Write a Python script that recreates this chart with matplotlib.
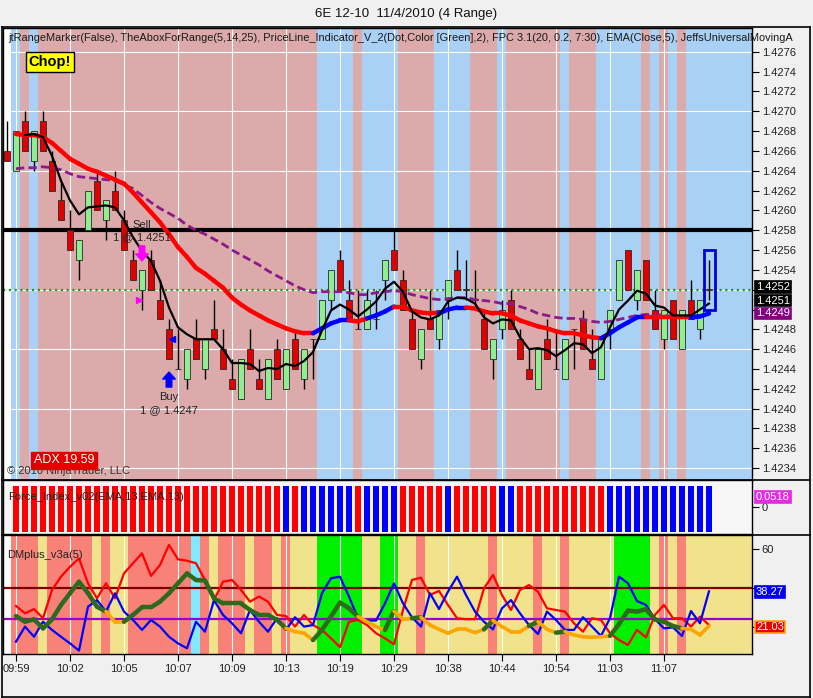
import numpy as np
import matplotlib
matplotlib.use("Agg")
import matplotlib.pyplot as plt
from matplotlib.collections import LineCollection
from matplotlib.patches import Rectangle
from matplotlib.lines import Line2D
import matplotlib.transforms as mtrans

plt.rcParams['font.family'] = ['Liberation Sans', 'DejaVu Sans']

# ---------------- data ----------------
TITLE = "6E 12-10  11/4/2010 (4 Range)"
HEADER = ("jtRangeMarker(False), TheAboxForRange(5,14,25), PriceLine_Indicator_V_2(Dot,Color [Green],2), "
          "FPC 3.1(20, 0.2, 7:30), EMA(Close,5), JeffsUniversalMovingA")
time_labels = ["09:59", "10:02", "10:05", "10:07", "10:09", "10:13", "10:19",
               "10:29", "10:38", "10:44", "10:54", "11:03", "11:07"]
time_label_bars = [1, 7, 13, 19, 25, 31, 37, 43, 49, 55, 61, 67, 73]

opens = [1.4266, 1.4264, 1.4269, 1.4265, 1.4269, 1.4265, 1.4261, 1.4258, 1.4255, 1.4258,
         1.4263, 1.4259, 1.4262, 1.4259, 1.4255, 1.4252, 1.4255, 1.4251, 1.4248, 1.4244,
         1.4243, 1.4247, 1.4244, 1.4248, 1.4246, 1.4243, 1.4241, 1.4246, 1.4243, 1.4241,
         1.4246, 1.4242, 1.4247, 1.4243, 1.4247, 1.4247, 1.4251, 1.4255, 1.4251, 1.4248,
         1.4248, 1.4249, 1.4253, 1.4256, 1.4253, 1.4249, 1.4245, 1.4249, 1.4247, 1.4251,
         1.4254, 1.4252, 1.4251, 1.4249, 1.4245, 1.4248, 1.4251, 1.4247, 1.4244, 1.4242,
         1.4247, 1.4244, 1.4243, 1.4248, 1.4249, 1.4245, 1.4243, 1.4248, 1.4251, 1.4256,
         1.4251, 1.4255, 1.4250, 1.4247, 1.4251, 1.4246, 1.4251, 1.4248, 1.4252]
highs = [1.4269, 1.4268, 1.4270, 1.4268, 1.4270, 1.4266, 1.4263, 1.4260, 1.4257, 1.4262,
         1.4264, 1.4261, 1.4264, 1.4260, 1.4256, 1.4254, 1.4256, 1.4253, 1.4249, 1.4248,
         1.4246, 1.4249, 1.4247, 1.4251, 1.4248, 1.4245, 1.4245, 1.4248, 1.4245, 1.4245,
         1.4247, 1.4246, 1.4248, 1.4246, 1.4247, 1.4251, 1.4254, 1.4256, 1.4253, 1.4252,
         1.4252, 1.4252, 1.4255, 1.4258, 1.4254, 1.4250, 1.4248, 1.4252, 1.4250, 1.4253,
         1.4256, 1.4255, 1.4254, 1.4250, 1.4247, 1.4251, 1.4252, 1.4248, 1.4246, 1.4246,
         1.4249, 1.4248, 1.4247, 1.4248, 1.4250, 1.4248, 1.4247, 1.4250, 1.4255, 1.4256,
         1.4254, 1.4255, 1.4252, 1.4250, 1.4251, 1.4250, 1.4253, 1.4251, 1.4255]
lows = [1.4265, 1.4264, 1.4266, 1.4264, 1.4266, 1.4262, 1.4259, 1.4256, 1.4253, 1.4258,
        1.4260, 1.4257, 1.4260, 1.4256, 1.4253, 1.4250, 1.4252, 1.4249, 1.4245, 1.4244,
        1.4242, 1.4245, 1.4243, 1.4247, 1.4244, 1.4242, 1.4241, 1.4244, 1.4242, 1.4241,
        1.4243, 1.4242, 1.4244, 1.4242, 1.4243, 1.4247, 1.4250, 1.4252, 1.4249, 1.4248,
        1.4248, 1.4248, 1.4251, 1.4254, 1.4250, 1.4246, 1.4244, 1.4248, 1.4246, 1.4249,
        1.4252, 1.4251, 1.4250, 1.4246, 1.4243, 1.4247, 1.4248, 1.4245, 1.4243, 1.4242,
        1.4245, 1.4244, 1.4243, 1.4244, 1.4246, 1.4244, 1.4243, 1.4246, 1.4251, 1.4252,
        1.4250, 1.4251, 1.4248, 1.4246, 1.4247, 1.4246, 1.4249, 1.4247, 1.4251]
closes = [1.4265, 1.4268, 1.4266, 1.4268, 1.4266, 1.4262, 1.4259, 1.4256, 1.4257, 1.4262,
          1.4260, 1.4261, 1.4260, 1.4256, 1.4253, 1.4254, 1.4252, 1.4249, 1.4245, 1.4244,
          1.4246, 1.4245, 1.4247, 1.4247, 1.4244, 1.4242, 1.4245, 1.4244, 1.4242, 1.4245,
          1.4243, 1.4246, 1.4244, 1.4246, 1.4247, 1.4251, 1.4254, 1.4252, 1.4249, 1.4248,
          1.4251, 1.4249, 1.4255, 1.4254, 1.4250, 1.4246, 1.4248, 1.4248, 1.4250, 1.4253,
          1.4252, 1.4252, 1.4251, 1.4246, 1.4247, 1.4250, 1.4248, 1.4245, 1.4243, 1.4246,
          1.4245, 1.4244, 1.4247, 1.4248, 1.4246, 1.4244, 1.4247, 1.4250, 1.4255, 1.4252,
          1.4254, 1.4251, 1.4248, 1.4250, 1.4247, 1.4250, 1.4249, 1.4251, 1.4252]

# EMA(Close,5) -- black, starts at bar 2
ema_fast_start = 2
ema_fast = [1.42676, 1.42677, 1.42674, 1.42655, 1.42630, 1.42610, 1.42596, 1.42603, 1.42604, 1.42605,
            1.42603, 1.42590, 1.42573, 1.42559, 1.42549, 1.42529, 1.42502, 1.42482, 1.42475, 1.42470,
            1.42470, 1.42470, 1.42460, 1.42446, 1.42446, 1.42445, 1.42438, 1.42441, 1.42440, 1.42445,
            1.42443, 1.42448, 1.42457, 1.42479, 1.42499, 1.42505, 1.42500, 1.42493, 1.42500, 1.42508,
            1.42521, 1.42528, 1.42518, 1.42498, 1.42492, 1.42490, 1.42494, 1.42508, 1.42512, 1.42511,
            1.42506, 1.42492, 1.42486, 1.42490, 1.42489, 1.42472, 1.42460, 1.42461, 1.42459, 1.42453,
            1.42459, 1.42466, 1.42465, 1.42456, 1.42462, 1.42482, 1.42500, 1.42509, 1.42519, 1.42516,
            1.42504, 1.42502, 1.42494, 1.42494, 1.42494, 1.42500, 1.42506]

# slow moving average -- red falling / blue rising, starts at bar 1
ema_slow_start = 1
ema_slow = [1.42677, 1.42676, 1.42676, 1.42674, 1.42668, 1.42660, 1.42652, 1.42647, 1.42642, 1.42639,
            1.42635, 1.42631, 1.42627, 1.42618, 1.42608, 1.42598, 1.42588, 1.42576, 1.42563, 1.42553,
            1.42542, 1.42536, 1.42529, 1.42522, 1.42512, 1.42505, 1.42499, 1.42494, 1.42489, 1.42485,
            1.42481, 1.42478, 1.42476, 1.42476, 1.42481, 1.42486, 1.42489, 1.42489, 1.42488, 1.42491,
            1.42494, 1.42498, 1.42503, 1.42503, 1.42499, 1.42497, 1.42496, 1.42496, 1.42500, 1.42502,
            1.42502, 1.42501, 1.42498, 1.42496, 1.42496, 1.42494, 1.42489, 1.42486, 1.42483, 1.42481,
            1.42478, 1.42476, 1.42476, 1.42474, 1.42472, 1.42471, 1.42476, 1.42482, 1.42487, 1.42492,
            1.42492, 1.42492, 1.42492, 1.42492, 1.42492, 1.42492, 1.42493, 1.42496]
ema_slow_rising_from = [34, 35, 36, 37, 40, 41, 42, 48, 49, 50, 66, 67, 68, 69, 70, 76, 77]

# Jeffs universal moving average -- purple dashed, starts at bar 1
juma_start = 1
juma = [1.42642, 1.42643, 1.42643, 1.42644, 1.42643, 1.42641, 1.42637, 1.42634, 1.42633, 1.42632,
        1.42631, 1.42630, 1.42626, 1.42622, 1.42615, 1.42608, 1.42602, 1.42597, 1.42592, 1.42585,
        1.42580, 1.42576, 1.42571, 1.42566, 1.42560, 1.42555, 1.42550, 1.42545, 1.42539, 1.42534,
        1.42529, 1.42524, 1.42520, 1.42517, 1.42518, 1.42518, 1.42518, 1.42517, 1.42515, 1.42515,
        1.42517, 1.42518, 1.42519, 1.42518, 1.42515, 1.42513, 1.42511, 1.42510, 1.42511, 1.42512,
        1.42512, 1.42510, 1.42509, 1.42508, 1.42506, 1.42506, 1.42503, 1.42500, 1.42496, 1.42494,
        1.42492, 1.42491, 1.42491, 1.42490, 1.42488, 1.42487, 1.42488, 1.42490, 1.42492, 1.42494,
        1.42495, 1.42495, 1.42494, 1.42493, 1.42493, 1.42493, 1.42494, 1.42496]

# background regimes (runs from bar 1): B = trend (blue), P = chop (pink)
main_bg_runs = [('B', 1), ('P', 1), ('B', 1), ('P', 31), ('B', 4), ('P', 1), ('B', 4), ('P', 4),
                ('B', 4), ('P', 3), ('B', 1), ('P', 6), ('B', 1), ('P', 3), ('B', 5), ('P', 1),
                ('B', 1), ('P', 1), ('B', 1), ('P', 1), ('B', 3)]
# force index sign (runs from bar 1): R negative, B positive
force_runs = [('R', 30), ('B', 1), ('R', 1), ('B', 6), ('R', 1), ('B', 4), ('R', 5), ('B', 1),
              ('R', 5), ('B', 2), ('R', 10), ('B', 12)]
force_last = "0.0518"
# DMplus background states (runs from bar 1)
dm_bg_runs = [('S', 3), ('K', 1), ('S', 5), ('K', 1), ('S', 1), ('K', 2), ('S', 7), ('C', 1),
              ('S', 1), ('K', 1), ('S', 3), ('K', 1), ('S', 2), ('K', 1), ('S', 1), ('K', 3),
              ('G', 5), ('K', 2), ('G', 2), ('K', 2), ('S', 1), ('K', 7), ('S', 1), ('K', 4),
              ('S', 1), ('K', 2), ('S', 1), ('K', 5), ('G', 4), ('K', 1), ('S', 1), ('K', 1),
              ('S', 1), ('K', 3)]

dm_start = 1
dm_red = [30.8, 27.0, 29.2, 24.5, 39.0, 45.8, 50.9, 55.2, 42.4, 34.7,
          42.4, 34.7, 47.5, 52.7, 57.8, 46.2, 51.8, 62.1, 54.7, 54.0,
          52.7, 44.1, 33.8, 43.2, 44.1, 39.0, 33.0, 35.6, 33.0, 26.2,
          25.6, 20.2, 26.2, 21.0, 18.5, 14.2, 9.6, 22.7, 23.6, 21.0,
          16.8, 14.2, 11.1, 28.7, 44.1, 45.3, 36.4, 38.5, 31.3, 24.5,
          24.0, 24.0, 39.8, 46.7, 36.4, 28.7, 39.0, 41.5, 38.1, 29.6,
          28.7, 27.9, 21.9, 17.6, 24.5, 23.6, 16.8, 13.3, 10.8, 18.5,
          14.7, 26.2, 31.3, 24.5, 24.5, 20.2, 25.3, 21.0]
dm_blue = [12.5, 20.2, 15.0, 22.7, 18.5, 15.0, 11.6, 7.9, 30.4, 33.8,
           27.9, 37.3, 27.9, 23.6, 18.5, 23.6, 20.2, 15.0, 11.6, 9.1,
           22.7, 17.6, 33.8, 26.2, 21.9, 16.8, 28.7, 22.7, 17.6, 24.5,
           18.5, 25.0, 20.2, 21.0, 37.3, 45.0, 45.8, 35.6, 24.5, 23.3,
           23.3, 32.1, 42.4, 32.1, 25.0, 20.2, 37.3, 29.2, 38.1, 45.8,
           36.4, 27.9, 22.7, 18.8, 29.6, 33.8, 27.0, 21.0, 16.4, 27.9,
           23.6, 18.5, 18.5, 25.0, 20.2, 15.4, 24.5, 45.8, 42.4, 33.3,
           31.3, 24.0, 19.3, 19.8, 15.4, 28.2, 21.9, 38.3]
dm_adx = [25.6, 22.7, 23.9, 19.3, 23.9, 31.3, 37.3, 43.2, 37.3, 30.4,
          27.9, 22.7, 22.7, 26.2, 30.1, 30.1, 33.0, 37.3, 42.4, 47.5,
          44.1, 43.8, 34.7, 32.1, 32.1, 32.1, 28.7, 26.2, 26.2, 23.6,
          19.3, 17.6, 16.8, 13.3, 18.5, 25.3, 32.5, 29.6, 25.3, 22.7,
          20.2, 18.5, 28.2, 23.9, 24.5, 25.0, 21.0, 18.8, 16.8, 18.8,
          18.8, 17.1, 18.8, 23.3, 20.2, 17.6, 17.6, 20.5, 22.7, 18.8,
          17.1, 17.6, 15.9, 15.0, 14.7, 15.0, 15.4, 21.5, 28.4, 27.9,
          29.1, 23.9, 22.7, 20.5, 19.3, 18.8, 15.9, 20.5]
adx_weak_from = [11, 12, 31, 32, 33, 39, 40, 41, 43, 44, 46, 47, 48, 49, 50, 51, 52, 54, 55,
                 56, 57, 59, 60, 62, 63, 64, 65, 66, 75, 76, 77]
dm_upper_level = 40
dm_lower_level = 24
dm_blue_last = "38.27"
dm_red_last = "21.03"

black_level = 1.4258
price_line = 1.4252
proj_box = (1.4250, 1.4256)
sell_bar, sell_price = 15, 1.4251
buy_bar, buy_price = 18, 1.4247
adx_text = "ADX 19.59"
tags = [("1.4252", 1.4252, 'black'), ("1.4251", 1.4251, 'black'), ("1.4249", 1.4249, '#800080')]

# ---------------- figure ----------------
W, H = 813, 698
fig = plt.figure(figsize=(W / 100, H / 100), dpi=100, facecolor='#f0f0f0')


def rect(x0, y0, x1, y1):
    return [x0 / W, 1 - y1 / H, (x1 - x0) / W, (y1 - y0) / H]


def fpos(px, py):
    return px / W, 1 - py / H


XL, XR = -0.444, 82.78
n = len(closes)
idx = np.arange(n)


def expand(runs):
    out = []
    for c, k in runs:
        out += [c] * k
    return out


def draw_bg(ax, runs, cmap, y0, y1):
    cols = expand(runs)
    bars = np.arange(1, len(cols) + 1)
    ax.bar(bars, y1 - y0, bottom=y0, width=1.0, color=[cmap[c] for c in cols],
           linewidth=0, zorder=0)
    ax.axvspan(bars[-1] + 0.5, XR, color=cmap[cols[-1]], lw=0, zorder=0)


def colored_line(ax, x, y, colors, lw, z):
    pts = np.column_stack([x, y])
    segs = np.stack([pts[:-1], pts[1:]], axis=1)
    lc = LineCollection(segs, colors=colors, linewidths=lw, capstyle='round',
                        joinstyle='round', zorder=z)
    ax.add_collection(lc)


def tag(ax, y, text, fc, dy=0, ec=None, fs=8):
    tr = mtrans.blended_transform_factory(ax.transAxes, ax.transData)
    ax.annotate(text, xy=(1.0, y), xycoords=tr, xytext=(4, dy), textcoords='offset pixels',
                ha='left', va='center', fontsize=fs, color='white', zorder=20,
                annotation_clip=False,
                bbox=dict(boxstyle='square,pad=0.08', fc=fc, ec=ec if ec else fc, lw=1.2))


# ---- main price panel ----
PLO, PHI = 1.42328, 1.42784
ax = fig.add_axes(rect(3, 28, 752, 480))
ax.set_xlim(XL, XR)
ax.set_ylim(PLO, PHI)
ax.set_facecolor('white')
draw_bg(ax, main_bg_runs, {'B': '#a9d0f5', 'P': '#dcaaaa'}, PLO, PHI)
for b in time_label_bars:
    ax.axvline(b, color='white', lw=0.8, zorder=0.5)
for p in np.arange(1.4234, 1.42761, 0.0006):
    ax.axhline(p, color='white', lw=0.8, zorder=0.5)

ax.axhline(black_level, color='black', lw=3, zorder=1.5)
ax.axhline(price_line, color='#1f9a1f', lw=1.6, ls=(0, (1, 1.6)), zorder=1.6)

O = np.array(opens); Hh = np.array(highs); L = np.array(lows); C = np.array(closes)
ax.vlines(idx, L, Hh, color='black', lw=1.0, zorder=2)
body_col = np.where(C > O, '#90ee90', '#e00000')
body_h = np.maximum(np.abs(C - O), 0.000003)
ax.bar(idx, body_h, bottom=np.minimum(O, C), width=0.74, color=body_col,
       edgecolor='#2a2a2a', linewidth=0.6, zorder=2.5)

# moving averages
xs_j = np.arange(juma_start, juma_start + len(juma))
ax.plot(xs_j, juma, color='#8b1a8b', lw=2.0, ls=(0, (3, 1.5)), zorder=3)
xs_s = np.arange(ema_slow_start, ema_slow_start + len(ema_slow))
seg_cols = ['#0000ff' if (ema_slow_start + k) in ema_slow_rising_from else '#ff0000'
            for k in range(len(ema_slow) - 1)]
colored_line(ax, xs_s, ema_slow, seg_cols, 3.2, 3.2)
xs_f = np.arange(ema_fast_start, ema_fast_start + len(ema_fast))
ax.plot(xs_f, ema_fast, color='black', lw=1.6, zorder=3.5)

# projected range box
ax.add_patch(Rectangle((n - 1 - 0.6, proj_box[0]), 1.22, proj_box[1] - proj_box[0],
                       fill=False, ec='#0000dd', lw=2, zorder=4))

# trades
off = lambda dx, dy: mtrans.offset_copy(ax.transData, fig=fig, x=dx, y=dy, units='dots')
ax.annotate('', xy=(sell_bar, highs[sell_bar]), xycoords=off(0, 9),
            xytext=(0, 15), textcoords='offset pixels',
            arrowprops=dict(arrowstyle='simple,head_length=0.5,head_width=0.9,tail_width=0.4',
                            color='#ff00ff', mutation_scale=10, shrinkA=0, shrinkB=0), zorder=5)
ax.plot([sell_bar], [sell_price], marker='>', ms=5, color='#ff00ff', mec='#ff00ff',
        transform=off(-3, 0), zorder=5, ls='none')
ax.annotate('Sell', xy=(sell_bar, highs[sell_bar]), xycoords='data', xytext=(0, 45),
            textcoords='offset pixels', ha='center', va='center', fontsize=8, color='#222', zorder=6)
ax.annotate('1 @ %.4f' % sell_price, xy=(sell_bar, highs[sell_bar]), xycoords='data',
            xytext=(0, 33), textcoords='offset pixels', ha='center', va='center', fontsize=8,
            color='#222', zorder=6)
ax.annotate('', xy=(buy_bar, lows[buy_bar]), xycoords=off(0, -13),
            xytext=(0, -15), textcoords='offset pixels',
            arrowprops=dict(arrowstyle='simple,head_length=0.5,head_width=0.9,tail_width=0.4',
                            color='#0000ff', mutation_scale=10, shrinkA=0, shrinkB=0), zorder=5)
ax.plot([buy_bar], [buy_price], marker='<', ms=5, color='#0000ff', mec='#0000ff',
        transform=off(3, 0), zorder=5, ls='none')
ax.annotate('Buy', xy=(buy_bar, lows[buy_bar]), xycoords='data', xytext=(0, -38),
            textcoords='offset pixels', ha='center', va='center', fontsize=8, color='#222', zorder=6)
ax.annotate('1 @ %.4f' % buy_price, xy=(buy_bar, lows[buy_bar]), xycoords='data',
            xytext=(0, -51), textcoords='offset pixels', ha='center', va='center', fontsize=8,
            color='#222', zorder=6)

ax.yaxis.tick_right()
pt = np.round(np.arange(1.4234, 1.42761, 0.0002), 4)
hidden = {1.4250, 1.4252}
ax.set_yticks(pt)
ax.set_yticklabels(['' if round(v, 4) in hidden else '%.4f' % v for v in pt])
ax.tick_params(axis='y', direction='out', length=5, width=0.8, labelsize=8, labelcolor='#222', pad=2)
ax.set_xticks([])
for s in ax.spines.values():
    s.set_color('black'); s.set_linewidth(1)

tag_dy = {"1.4252": 3, "1.4251": -1, "1.4249": 6}
for text, p, col in tags:
    tag(ax, p, text, col, dy=tag_dy[text])

# ---- force index panel ----
axf = fig.add_axes(rect(3, 480, 752, 534))
axf.set_xlim(XL, XR)
axf.set_ylim(-1, 1)
axf.set_facecolor('#f6f6f6')
fcols = expand(force_runs)
fb = np.arange(1, len(fcols) + 1)
axf.bar(fb, 1.70, bottom=-0.93, width=0.74,
        color=['#ff0000' if c == 'R' else '#0000ff' for c in fcols], linewidth=0, zorder=2)
axf.yaxis.tick_right()
axf.set_yticks([0])
axf.set_yticklabels(['0'])
axf.tick_params(axis='y', direction='out', length=5, width=0.8, labelsize=8, labelcolor='#222', pad=2)
axf.set_xticks([])
for s in axf.spines.values():
    s.set_color('black'); s.set_linewidth(1)
tag(axf, 0, force_last, '#e02ee0', dy=10)

# ---- DMplus panel ----
DLO, DHI = 6.15, 67.18
axd = fig.add_axes(rect(3, 535, 752, 654))
axd.set_xlim(XL, XR)
axd.set_ylim(DLO, DHI)
axd.set_facecolor('white')
draw_bg(axd, dm_bg_runs, {'S': '#f88178', 'K': '#f0e38c', 'G': '#00f000', 'C': '#7fe9ff'}, DLO, DHI)
for b in time_label_bars:
    axd.axvline(b, color='white', lw=0.8, zorder=0.5)
axd.axhline(dm_upper_level, color='#800000', lw=1.6, zorder=1)
axd.axhline(dm_lower_level, color='#9900cc', lw=1.6, zorder=1)
xs_d = np.arange(dm_start, dm_start + len(dm_red))
axd.plot(xs_d, dm_red, color='#ff0000', lw=1.6, zorder=2)
axd.plot(xs_d, dm_blue, color='#0000ff', lw=1.6, zorder=2.2)
adx_cols = ['#ffa500' if (dm_start + k) in adx_weak_from else '#2d6a1e' for k in range(len(dm_adx) - 1)]
adx_lw = [2.6 if c == '#ffa500' else 3.2 for c in adx_cols]
colored_line(axd, xs_d, dm_adx, adx_cols, adx_lw, 2.5)

axd.yaxis.tick_right()
axd.set_yticks([20, 40, 60])
axd.set_yticklabels(['', '', '60'])
axd.tick_params(axis='y', direction='out', length=5, width=0.8, labelsize=8, labelcolor='#222', pad=2)
axd.set_xticks(time_label_bars)
axd.set_xticklabels(time_labels)
axd.tick_params(axis='x', direction='out', length=5, width=0.8, labelsize=8, labelcolor='#222', pad=2)
for s in axd.spines.values():
    s.set_color('black'); s.set_linewidth(1)
tag(axd, float(dm_blue_last), dm_blue_last, '#0000ee', dy=-1)
tag(axd, float(dm_red_last), dm_red_last, '#ee0000', dy=-2, ec='#ffa500')

# ---- texts ----
fig.text(*fpos(406, 14), TITLE, ha='center', va='center', fontsize=9.5, color='#111')
fig.text(*fpos(8, 38), HEADER, ha='left', va='center', fontsize=7.9, color='#1a1a1a', zorder=10)
fig.text(*fpos(50, 62), 'Chop!', ha='center', va='center', fontsize=10.5, fontweight='bold',
         color='black', zorder=10,
         bbox=dict(boxstyle='square,pad=0.2', fc='#ffff00', ec='black', lw=1))
fig.text(*fpos(7, 471), '\u00a9 2010 NinjaTrader, LLC', ha='left', va='center', fontsize=8,
         color='#333', zorder=9)
fig.text(*fpos(64, 460), adx_text, ha='center', va='center', fontsize=9, color='white', zorder=10,
         bbox=dict(boxstyle='square,pad=0.2', fc='#e00000', ec='#e00000', lw=1))
fig.text(*fpos(8, 497), 'Force_Index_v02(EMA,13,EMA,13)', ha='left', va='center', fontsize=8,
         color='#222', zorder=10)
fig.text(*fpos(7, 555), 'DMplus_v3a(5)', ha='left', va='center', fontsize=8, color='#222', zorder=10)

# frame and separators
for (x0, y0, x1, y1) in [(2, 27, 810, 27), (2, 697, 810, 697), (2, 27, 2, 697), (810, 27, 810, 697),
                         (2, 480, 810, 480), (2, 535, 810, 535)]:
    fig.add_artist(Line2D([x0 / W, x1 / W], [1 - y0 / H, 1 - y1 / H], color='black', lw=1.2))

fig.savefig('out.png', dpi=100, facecolor=fig.get_facecolor())
